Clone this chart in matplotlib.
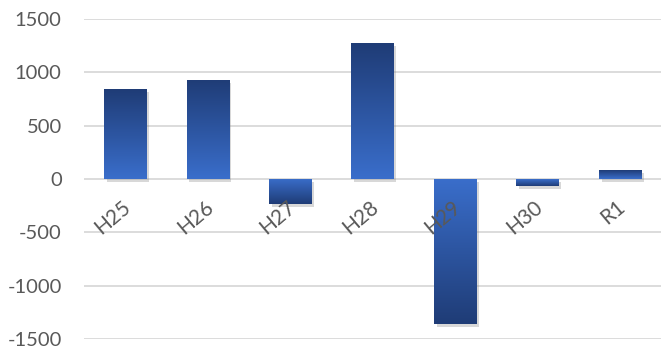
import numpy as np
import matplotlib
matplotlib.use('Agg')
import matplotlib.pyplot as plt
import matplotlib.patheffects as pe
from matplotlib.colors import LinearSegmentedColormap

categories = ['H25', 'H26', 'H27', 'H28', 'H29', 'H30', 'R1']
values = [840, 930, -235, 1270, -1360, -65, 80]
y_ticks = [-1500, -1000, -500, 0, 500, 1000, 1500]

plt.rcParams['font.family'] = ['Lato', 'DejaVu Sans']

fig = plt.figure(figsize=(6.61, 3.51), dpi=100)
ax = fig.add_axes([0.127, 0.034, 0.873, 0.912])

# light near zero, dark at the far end of each bar
cmap = LinearSegmentedColormap.from_list('bar', ['#3a6ecb', '#1f3c76'])
grad = np.linspace(0, 1, 256).reshape(-1, 1)

x = np.arange(len(categories))
bars = ax.bar(x, values, width=0.51, color='#2d55a0', zorder=2,
              path_effects=[pe.SimplePatchShadow(offset=(2, -2), shadow_rgbFace='#808080', alpha=0.3),
                            pe.Normal()])

for bar, v in zip(bars, values):
    x0 = bar.get_x()
    x1 = x0 + bar.get_width()
    img = grad if v >= 0 else grad[::-1]
    im = ax.imshow(img, cmap=cmap, extent=[x0, x1, 0, v] if v >= 0 else [x0, x1, v, 0],
                   aspect='auto', origin='lower', zorder=2.1)
    im.set_clip_path(bar)

# gridlines behind bars
for t in y_ticks:
    ax.axhline(t, color='#d9d9d9', lw=1.3, zorder=0)

ax.set_xlim(-0.5, len(categories) - 0.5)
ax.set_ylim(-1500, 1500)
ax.set_yticks(y_ticks)
ax.set_yticklabels([str(t) for t in y_ticks], color='#595959', fontsize=14.5)
ax.tick_params(axis='y', length=0, pad=16)
ax.set_xticks([])

# category labels just under the zero line, drawn above the bars
for i, c in enumerate(categories):
    ax.annotate(c, xy=(i - 0.04, 0), xytext=(0, -13), textcoords='offset points',
                rotation=40, rotation_mode='anchor', ha='right', va='top',
                color='#595959', fontsize=15, zorder=5)

for s in ax.spines.values():
    s.set_visible(False)

fig.savefig('out.png', dpi=100)
